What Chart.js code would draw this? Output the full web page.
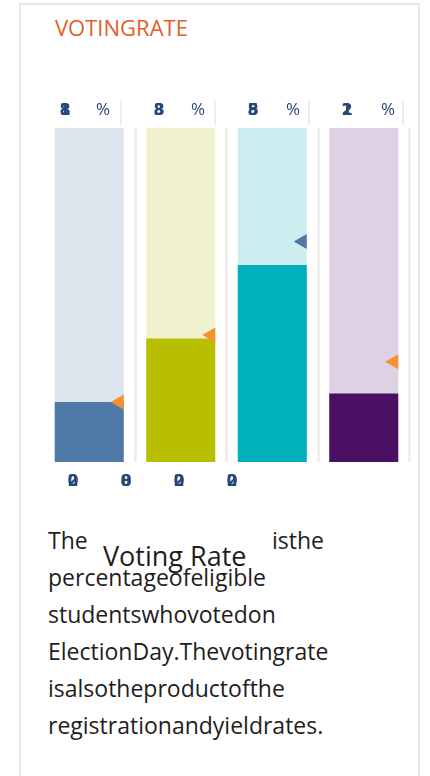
<!DOCTYPE html>
<html>
<head>
<meta charset="utf-8">
<script src="https://cdn.jsdelivr.net/npm/chart.js@4/dist/chart.umd.min.js"></script>
<style>
  body { margin: 0; width: 430px; height: 776px; background: #fff; position: relative; overflow: hidden; font-family: "Open Sans", sans-serif; }
  .card { position: absolute; left: 19px; top: 3px; width: 397px; height: 800px; border: 2px solid #e8e8e8; }
  .title { position: absolute; left: 55px; top: 12px; font-size: 22px; color: #e35d2b; }
  #rateChart { position: absolute; left: 0; top: 0; }
  .txt { position: absolute; font-size: 23px; line-height: 37px; color: #1e1e1e; white-space: nowrap; }
  .big { font-size: 27px; }
</style>
</head>
<body>
<div class="card"></div>
<div class="title">VOTINGRATE</div>
<canvas id="rateChart" width="430" height="520"></canvas>
<div class="txt" style="left:48px;top:522px">The</div>
<div class="txt big" style="left:103px;top:537px">Voting Rate</div>
<div class="txt" style="left:272px;top:522px">isthe</div>
<div class="txt" style="left:48px;top:559px">percentageofeligible<br>studentswhovotedon<br>ElectionDay.Thevotingrate<br>isalsotheproductofthe<br>registrationandyieldrates.</div>

<script>
// 막대 값 (투표율 %)
const categories = ["A", "B", "C", "D"];
const votingRate = [18, 37, 59, 20.5];
const markerRate = [18, 38, 66, 30];
const fullScale = [100, 100, 100, 100];
const topLabels = ["18", "38", "58", "21"];
const bottomLabels = ["20", "08", "20", "20"];

const fillColors = ["#4f7aa8", "#b8bf00", "#00b0ba", "#4b0f63"];
const trackColors = ["#dde4ed", "#f0f2cf", "#cdeef1", "#ddd1e3"];
const markerColors = ["#f5922f", "#f5922f", "#4f78a8", "#f5922f"];
const labelColor = "#27477a";

// 겹친 숫자 그리기 (한 자리에 여러 글자)
function drawStacked(ctx, text, x, y) {
  for (const ch of text) ctx.fillText(ch, x, y);
}

const markerPlugin = {
  id: "markers",
  afterDatasetsDraw(chart) {
    const ctx = chart.ctx;
    const area = chart.chartArea;
    const yScale = chart.scales.y;
    const bars = chart.getDatasetMeta(0).data;
    ctx.save();
    bars.forEach((bar, i) => {
      const right = bar.x + bar.width / 2;
      const my = yScale.getPixelForValue(markerRate[i]);
      ctx.fillStyle = markerColors[i];
      ctx.beginPath();
      ctx.moveTo(right, my - 7.5);
      ctx.lineTo(right, my + 7.5);
      ctx.lineTo(right - 13, my);
      ctx.closePath();
      ctx.fill();
    });

    // 위쪽 라벨
    ctx.textAlign = "center";
    ctx.textBaseline = "middle";
    topLabels.forEach((t, i) => {
      ctx.fillStyle = labelColor;
      ctx.font = "bold 16px 'DejaVu Sans'";
      drawStacked(ctx, t, area.left + 21.5 + i * 94, 111);
      ctx.font = "17px 'Open Sans'";
      ctx.fillText("%", area.left + 59.5 + i * 95, 110);
      ctx.fillStyle = "#eeeeee";
      ctx.fillRect(area.left + 76.5 + i * 94, 100, 2, 25);
    });

    // 아래쪽 라벨
    ctx.fillStyle = labelColor;
    ctx.font = "bold 16px 'DejaVu Sans'";
    bottomLabels.forEach((t, i) => {
      drawStacked(ctx, t, area.left + 29.5 + i * 53, 482);
    });
    ctx.restore();
  }
};

const ctx = document.getElementById("rateChart").getContext("2d");
new Chart(ctx, {
  type: "bar",
  data: {
    labels: categories,
    datasets: [
      { data: votingRate, backgroundColor: fillColors, order: 1 },
      { data: fullScale, backgroundColor: trackColors, order: 2 }
    ]
  },
  options: {
    responsive: false,
    animation: false,
    categoryPercentage: 1,
    barPercentage: 0.754,
    layout: { padding: { left: 43.5, right: 20.5, top: 128, bottom: 58 } },
    plugins: { legend: { display: false }, tooltip: { enabled: false } },
    scales: {
      x: {
        stacked: true,
        grid: {
          offset: true,
          color: (c) => (c.index === 0 || c.index === categories.length ? "rgba(0,0,0,0)" : "#eeeeee"),
          lineWidth: 3,
          drawTicks: false
        },
        border: { display: false },
        ticks: { display: false }
      },
      y: { display: false, min: 0, max: 100 }
    }
  },
  plugins: [markerPlugin]
});
</script>
</body>
</html>
